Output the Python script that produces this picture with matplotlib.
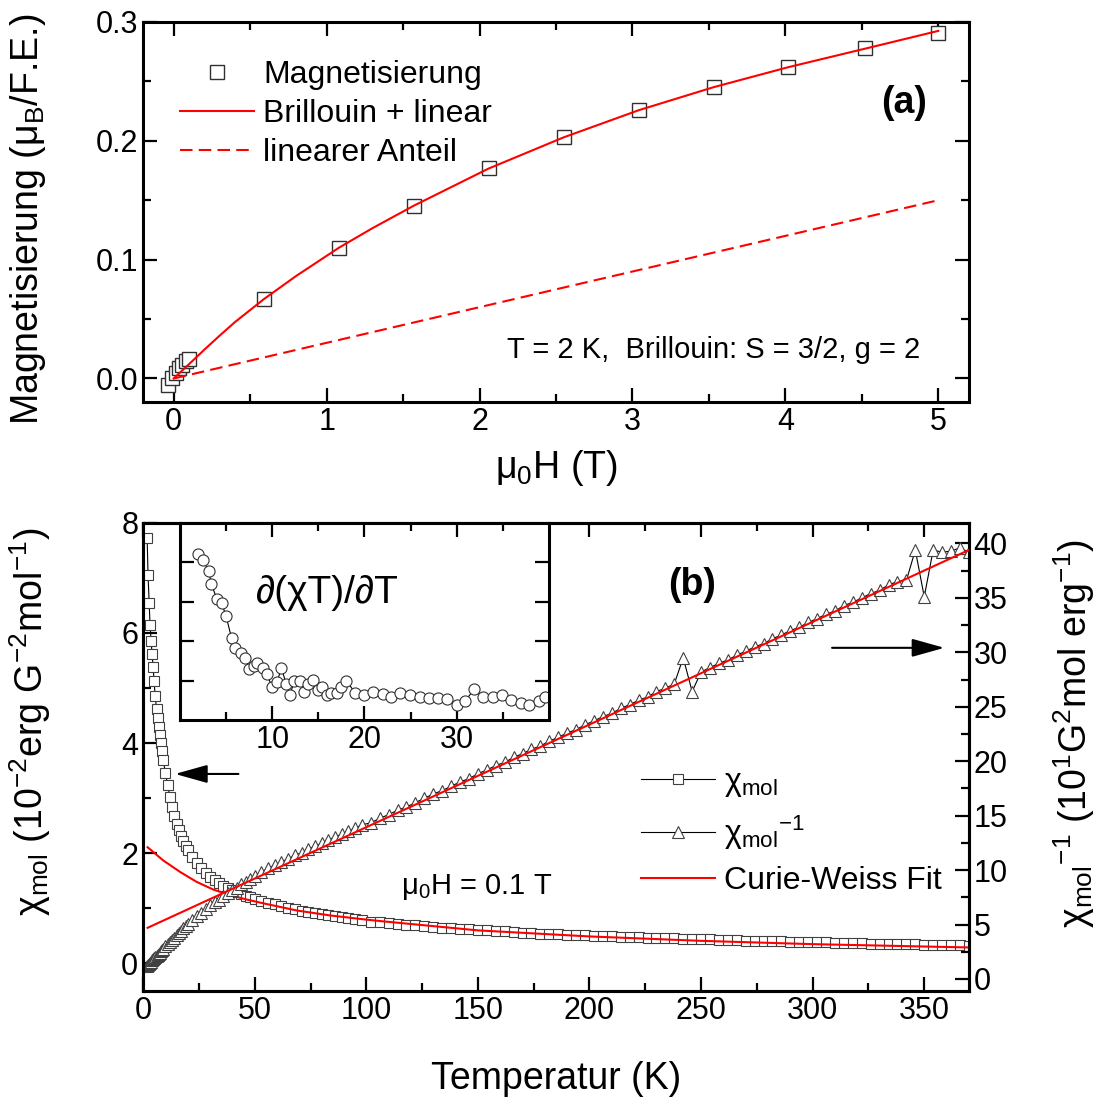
import matplotlib
matplotlib.use('Agg')
import matplotlib.pyplot as plt
from matplotlib.ticker import MultipleLocator, FixedLocator, FormatStrFormatter, NullFormatter

plt.rcParams['font.family'] = ['Liberation Sans', 'DejaVu Sans']
plt.rcParams['mathtext.fontset'] = 'custom'
plt.rcParams['mathtext.rm'] = 'Liberation Sans'
plt.rcParams['mathtext.it'] = 'Liberation Sans:italic'
plt.rcParams['mathtext.bf'] = 'Liberation Sans:bold'
plt.rcParams['mathtext.default'] = 'regular'

# (a) magnetisation at T = 2 K
field = [-0.04, -0.009, 0.013, 0.035, 0.057, 0.078, 0.1, 0.59, 1.08, 1.57, 2.06, 2.55, 3.04, 3.53, 4.02, 4.52, 5.0]
magn = [-0.0053, 0.0008, 0.005, 0.0087, 0.0116, 0.0144, 0.0166, 0.0668, 0.110, 0.1454, 0.1767, 0.2029, 0.2257,
        0.2451, 0.262, 0.278, 0.2908]
field_fit = [0.0, 0.1, 0.2, 0.3, 0.4, 0.59, 0.8, 1.08, 1.3, 1.57, 2.06, 2.55, 3.04, 3.53, 4.02, 4.52, 5.0]
magn_fit = [0.0, 0.012, 0.0242, 0.036, 0.0474, 0.0668, 0.0862, 0.110, 0.1265, 0.1454, 0.1767, 0.2029, 0.2257,
            0.2451, 0.262, 0.2775, 0.2925]
field_lin = [0.0, 5.0]
magn_lin = [0.0, 0.15]

# (b) susceptibility and inverse susceptibility
temp = [1.8, 2.2, 2.7, 3.1, 3.6, 4.0, 4.5, 4.9, 5.4, 6.0, 6.5, 7.0, 7.5, 8.0, 8.5, 9.0,
        10, 11, 12, 13, 14, 15, 16, 17, 18, 19, 20,
        22, 24, 26, 28, 30, 32, 34, 36, 38, 40, 42, 44, 46, 48, 50,
        53, 56, 59, 62, 65, 68, 71, 74, 77, 80, 83, 86, 89, 92, 95, 98,
        102, 106, 110, 114, 118, 122, 126, 130, 134, 138, 142, 146, 150, 154, 158, 162, 166, 170,
        174, 178, 182, 186, 190, 194, 198, 202, 206, 210, 214, 218, 222, 226, 230, 234, 238, 242,
        246, 250, 254, 258, 262, 266, 270, 274, 278, 282, 286, 290, 294, 298, 302, 306, 310, 314,
        318, 322, 326, 330, 334, 338, 342, 346, 350, 354, 358, 362, 366, 370]
chi = [7.72, 7.05, 6.55, 6.15, 5.85, 5.62, 5.38, 5.12, 4.86, 4.62, 4.46, 4.30, 4.14, 4.00, 3.85, 3.70,
       3.45, 3.24, 3.02, 2.84, 2.67, 2.54, 2.42, 2.31, 2.22, 2.14, 2.06,
       1.93, 1.82, 1.73, 1.64, 1.57, 1.51, 1.46, 1.41, 1.37, 1.33, 1.30, 1.26, 1.23, 1.20, 1.17,
       1.13, 1.10, 1.07, 1.04, 1.01, 0.98, 0.96, 0.94, 0.92, 0.90, 0.88, 0.86, 0.84, 0.82, 0.80, 0.78,
       0.76, 0.75, 0.73, 0.72, 0.70, 0.69, 0.68, 0.66, 0.65, 0.64, 0.63, 0.62, 0.61, 0.60, 0.59, 0.58,
       0.57, 0.56, 0.55, 0.54, 0.535, 0.53, 0.52, 0.515, 0.51, 0.50, 0.495, 0.49, 0.485, 0.48, 0.475,
       0.47, 0.465, 0.46, 0.455, 0.45, 0.445, 0.44, 0.435, 0.43, 0.425, 0.42, 0.415, 0.41, 0.405, 0.40,
       0.40, 0.395, 0.39, 0.385, 0.38, 0.38, 0.375, 0.37, 0.37, 0.365, 0.36, 0.36, 0.355, 0.35, 0.35,
       0.345, 0.34, 0.34, 0.335, 0.33, 0.33, 0.325]
chi_inv = [1.2, 1.3, 1.4, 1.5, 1.6, 1.7, 1.8, 1.9, 2.0, 2.1, 2.2, 2.3, 2.4, 2.55, 2.65, 2.8,
           3.0, 3.2, 3.4, 3.6, 3.8, 4.0, 4.25, 4.45, 4.65, 4.85, 5.05,
           5.4, 5.8, 6.1, 6.4, 6.75, 7.05, 7.3, 7.6, 7.9, 8.15, 8.4, 8.7, 8.95, 9.2, 9.45,
           9.85, 10.15, 10.45, 10.75, 11.05, 11.35, 11.6, 11.9, 12.2, 12.45, 12.75, 13.05, 13.3, 13.55,
           13.85, 14.15,
           14.35, 14.75, 15.1, 15.5, 15.8, 16.2, 16.6, 17.0, 17.3, 17.7, 18.1, 18.4, 18.85, 19.2, 19.6,
           19.9, 20.35, 20.7, 21.1, 21.4, 21.85, 22.2, 22.6, 22.9, 23.35, 23.7, 24.1, 24.4, 24.85, 25.2,
           25.6, 25.9, 26.4, 26.7, 27.1, 29.5, 26.4, 28.2, 28.6, 29.0, 29.3, 29.75, 30.1, 30.5, 30.8,
           31.25, 31.6, 32.0, 32.3, 32.75, 33.1, 33.5, 33.8, 34.3, 34.6, 35.0, 35.4, 35.7, 36.2, 36.5,
           36.6, 39.4, 35.1, 39.4, 39.2, 39.3, 39.6, 39.2]

# Curie-Weiss fit curves
temp_cw = [2, 9, 16.6, 24, 31.5, 39, 46.4, 54, 69, 84, 99, 106, 150, 200, 250, 300, 370]
chi_cw = [2.11, 1.87, 1.66, 1.48, 1.34, 1.24, 1.16, 1.09, 0.96, 0.87, 0.80, 0.77, 0.60, 0.49, 0.41, 0.35, 0.29]
temp_cw_inv = [2, 370]
chi_inv_cw = [4.7, 39.4]

# inset: d(chi T)/dT
temp_ins = [2.0, 2.5, 3.1, 3.4, 4.0, 4.5, 5.0, 5.6, 6.0, 6.6, 7.0, 7.5, 8.0, 8.4, 9.0, 9.4, 10.0, 10.5,
            11.0, 11.5, 11.9, 12.4, 13.0, 13.5, 13.9, 14.4, 15.0, 15.4, 15.9, 16.4, 17.0, 17.5, 18.0,
            19.0, 20.0, 20.9, 22.0, 22.9, 23.9, 24.9, 26.0, 27.0, 28.0, 29.0, 30.0, 30.9, 31.9, 32.9,
            33.9, 34.9, 35.9, 37.0, 37.9, 38.9, 39.6]
dchiT = [4.22, 4.07, 3.78, 3.45, 3.07, 2.98, 2.63, 2.07, 1.82, 1.70, 1.58, 1.30, 1.38, 1.45, 1.32, 1.17,
         0.83, 0.95, 1.32, 0.92, 0.63, 0.98, 0.98, 0.70, 0.90, 1.01, 0.76, 0.84, 0.63, 0.68, 0.68, 0.83,
         1.00, 0.69, 0.63, 0.72, 0.66, 0.57, 0.68, 0.63, 0.57, 0.55, 0.55, 0.53, 0.37, 0.47, 0.78, 0.59,
         0.57, 0.62, 0.51, 0.43, 0.37, 0.47, 0.57]

fig = plt.figure(figsize=(11.01, 10.99), dpi=100)
ax1 = fig.add_axes([0.130, 0.634, 0.750, 0.346])
ax = fig.add_axes([0.130, 0.0983, 0.750, 0.426])
ax2 = ax.twinx()
axin = fig.add_axes([0.1635, 0.345, 0.335, 0.179])


def style_axis(a):
    for s in a.spines.values():
        s.set_linewidth(2.2)
    a.tick_params(which='both', direction='in', width=1.6, labelsize=22)
    a.tick_params(which='major', length=10)
    a.tick_params(which='minor', length=5.5)


# ---- panel (a)
ax1.plot(field, magn, 's', ms=10, mfc='white', mec='#303030', mew=1.0, zorder=2, label='Magnetisierung')
ax1.plot(field_fit, magn_fit, '-', color='red', lw=1.5, zorder=3, label='Brillouin + linear')
ax1.plot(field_lin, magn_lin, '--', color='red', lw=1.5, dashes=(6, 3), zorder=3, label='linearer Anteil')
ax1.set_xlim(-0.2, 5.2)
ax1.set_ylim(-0.02, 0.3)
ax1.xaxis.set_major_locator(MultipleLocator(1))
ax1.xaxis.set_minor_locator(MultipleLocator(0.5))
ax1.yaxis.set_major_locator(MultipleLocator(0.1))
ax1.yaxis.set_minor_locator(MultipleLocator(0.05))
ax1.yaxis.set_major_formatter(FormatStrFormatter('%.1f'))
style_axis(ax1)
ax1.tick_params(which='both', top=True, right=True)
ax1.set_xlabel(r'μ$_0$H (T)', fontsize=27)
ax1.set_ylabel(r'Magnetisierung (μ$_B$/F.E.)', fontsize=27)
ax1.xaxis.set_label_coords(0.5, -0.12)
ax1.yaxis.set_label_coords(-0.115, 0.48)
ax1.legend(loc='upper left', bbox_to_anchor=(0.045, 0.90), frameon=False, fontsize=23,
           handlelength=2.3, handletextpad=0.3, labelspacing=0.28, borderpad=0, borderaxespad=0)
ax1.text(0.922, 0.787, '(a)', transform=ax1.transAxes, fontsize=27, fontweight='bold',
         ha='center', va='center')
ax1.text(0.941, 0.137, 'T = 2 K,  Brillouin: S = 3/2, g = 2', transform=ax1.transAxes,
         fontsize=21, ha='right', va='center')

# ---- panel (b)
l_chi, = ax.plot(temp, chi, 's-', color='black', lw=0.8, ms=6.5, mfc='white', mec='#404040', mew=0.8)
l_cw, = ax.plot(temp_cw, chi_cw, '-', color='red', lw=1.5, zorder=4)
l_inv, = ax2.plot(temp, chi_inv, '^-', color='black', lw=0.8, ms=9, mfc='white', mec='#404040', mew=0.8)
ax2.plot(temp_cw_inv, chi_inv_cw, '-', color='red', lw=1.5, zorder=4)

ax.set_xlim(0, 370)
ax.set_ylim(-0.5, 8.0)
ax2.set_ylim(-1.1, 41.9)
ax.xaxis.set_major_locator(MultipleLocator(50))
ax.xaxis.set_minor_locator(MultipleLocator(25))
ax.yaxis.set_major_locator(MultipleLocator(2))
ax.yaxis.set_minor_locator(MultipleLocator(1))
ax2.yaxis.set_major_locator(MultipleLocator(5))
ax2.yaxis.set_minor_locator(MultipleLocator(2.5))
style_axis(ax)
style_axis(ax2)
ax.tick_params(which='both', top=True, right=False)

ax.set_xlabel('Temperatur (K)', fontsize=27)
ax.set_ylabel(r'$χ_{mol}$ (10$^{-2}$erg G$^{-2}$mol$^{-1}$)', fontsize=27)
ax2.set_ylabel(r'$χ_{mol}{}^{-1}$ (10$^{1}$G$^{2}$mol erg$^{-1}$)', fontsize=27)
ax.xaxis.set_label_coords(0.5, -0.15)
ax.yaxis.set_label_coords(-0.109, 0.575)
ax2.yaxis.set_label_coords(1.100, 0.551)

ax2.legend([l_chi, l_inv, l_cw], [r'$χ_{mol}$', r'$χ_{mol}{}^{-1}$', 'Curie-Weiss Fit'],
           loc='upper left', bbox_to_anchor=(0.603, 0.478), frameon=False, fontsize=23,
           handlelength=2.3, handletextpad=0.3, labelspacing=0.45, borderpad=0, borderaxespad=0)
ax2.text(0.665, 0.868, '(b)', transform=ax.transAxes, fontsize=27, fontweight='bold',
         ha='center', va='center')
ax2.text(149.5, 1.38, r'μ$_0$H = 0.1 T', transform=ax.transData,
         fontsize=21, ha='center', va='center')

# arrows pointing at the axes
arrow_style = '-|>,head_length=1.0,head_width=0.28'
ax2.annotate('', xy=(14.3, 3.44), xytext=(42.7, 3.44), xycoords=ax.transData, textcoords=ax.transData,
             arrowprops=dict(arrowstyle=arrow_style, color='black', lw=1.5, mutation_scale=20,
                             shrinkA=0, shrinkB=0))
ax2.annotate('', xy=(359, 5.73), xytext=(308.7, 5.73), xycoords=ax.transData, textcoords=ax.transData,
             arrowprops=dict(arrowstyle=arrow_style, color='black', lw=1.5, mutation_scale=20,
                             shrinkA=0, shrinkB=0))

# ---- inset
axin.plot(temp_ins, dchiT, 'o-', color='black', lw=0.8, ms=8, mfc='white', mec='#303030', mew=0.8)
axin.set_xlim(0, 40)
axin.set_ylim(0, 5)
axin.xaxis.set_major_locator(FixedLocator([10, 20, 30]))
axin.xaxis.set_minor_locator(FixedLocator([5, 15, 25, 35]))
axin.yaxis.set_major_locator(FixedLocator([1, 2, 3, 4]))
axin.yaxis.set_major_formatter(NullFormatter())
style_axis(axin)
axin.tick_params(which='both', top=True, right=True)
axin.text(0.40, 0.645, '∂(χT)/∂T', transform=axin.transAxes, fontsize=28, ha='center', va='center')

fig.savefig('out.png', dpi=100)
